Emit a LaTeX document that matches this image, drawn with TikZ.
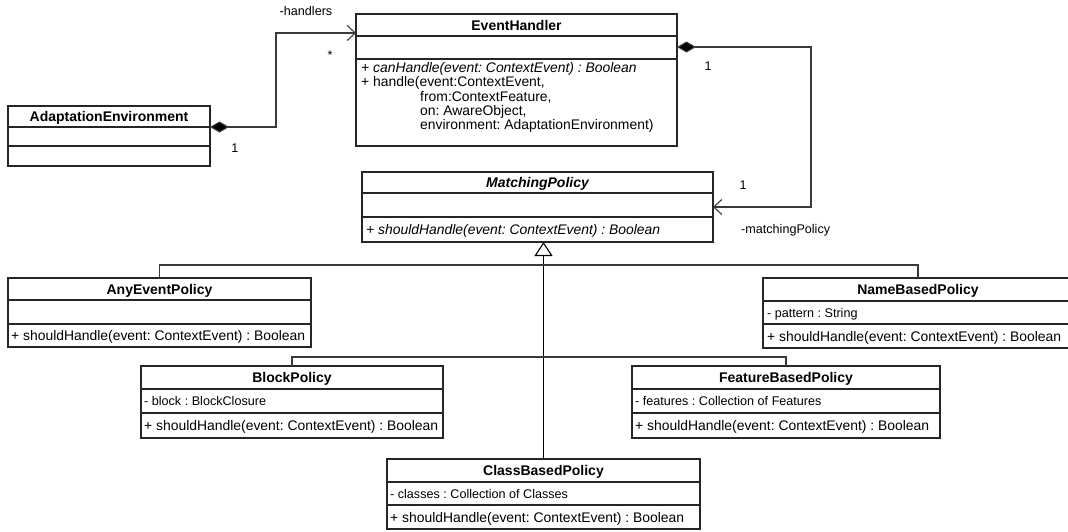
\documentclass[tikz,border=0pt]{standalone}
\usepackage{fontspec}
\setmainfont{Liberation Sans}
\usetikzlibrary{arrows.meta,fit}
\frenchspacing

\definecolor{framecol}{HTML}{262626}
\definecolor{conncol}{HTML}{3A3A3A}

% class box: name, x1, y1, x2, y2, first divider y, second divider y
\newcommand\classbox[7]{%
  \node[classframe, fit={(#2,#3)(#4,#5)}] (#1) {};
  \draw[divider] (#2,#6) -- (#4,#6);
  \draw[divider] (#2,#7) -- (#4,#7);
}

\tikzset{
  classframe/.style={draw=framecol, line width=1.1pt, inner sep=0pt, outer sep=0pt},
  divider/.style={draw=framecol, line width=1.1pt},
  hdr/.style={font=\fontsize{14}{16}\selectfont\bfseries, anchor=base, inner sep=0pt},
  op/.style={font=\fontsize{13.9}{16}\selectfont, anchor=base west, inner sep=0pt},
  attr/.style={font=\fontsize{12.6}{14}\selectfont, anchor=base west, inner sep=0pt},
  lbl/.style={font=\fontsize{12.6}{14}\selectfont, anchor=base, inner sep=0pt},
  link/.style={draw=conncol, line width=1.1pt},
  composite/.style={link, {Diamond[length=19pt,width=11pt,fill=black]}-{Straight Barb[length=8pt,width=15pt]}},
  inherit/.style={link, draw=black, -{Triangle[open,length=14pt,width=18pt,fill=white]}},
}

\begin{document}
\begin{tikzpicture}[x=1pt, y=-1pt]
\useasboundingbox[fill=white] (0,0) rectangle (1068,531);

% ---- classes ----
\classbox{ae}{8}{106}{210}{166}{127}{146}
\node[hdr] (ae-h) at (109,121.5) {AdaptationEnvironment};

\classbox{eh}{356}{14}{677}{146}{36}{59}
\node[hdr] (eh-h) at (516.5,30) {EventHandler};
\node[op] (eh-o1) at (361,72.5) {\itshape + canHandle(event: ContextEvent) : Boolean};
\node[op] (eh-o2) at (361,86.8) {+ handle(event:ContextEvent,};
\node[op] (eh-o3) at (420,101.1) {from:ContextFeature,};
\node[op] (eh-o4) at (420,115.4) {on: AwareObject,};
\node[op] (eh-o5) at (420,129.7) {environment: AdaptationEnvironment)};

\classbox{mp}{362}{172}{713}{242}{193}{217}
\node[hdr] (mp-h) at (537.5,187.5) {\itshape MatchingPolicy};
\node[op] (mp-o) at (366,234.5) {\itshape + shouldHandle(event: ContextEvent) : Boolean};

\classbox{aep}{8}{278}{311}{347}{300}{324}
\node[hdr] (aep-h) at (159.5,294) {AnyEventPolicy};
\node[op] (aep-o) at (11,340.5) {+ shouldHandle(event: ContextEvent) : Boolean};

\classbox{nbp}{763}{278}{1073}{348}{301}{324}
\node[hdr] (nbp-h) at (918,294.5) {NameBasedPolicy};
\node[attr] (nbp-a) at (767,317) {- pattern : String};
\node[op] (nbp-o) at (767,341) {+ shouldHandle(event: ContextEvent) : Boolean};

\classbox{bp}{141}{366}{443}{438}{389}{413}
\node[hdr] (bp-h) at (292,382.5) {BlockPolicy};
\node[attr] (bp-a) at (144,405.5) {- block : BlockClosure};
\node[op] (bp-o) at (144,430.5) {+ shouldHandle(event: ContextEvent) : Boolean};

\classbox{fbp}{632}{366}{940}{438}{389}{413}
\node[hdr] (fbp-h) at (786,382.5) {FeatureBasedPolicy};
\node[attr] (fbp-a) at (635,405.5) {- features : Collection of Features};
\node[op] (fbp-o) at (635,430.5) {+ shouldHandle(event: ContextEvent) : Boolean};

\classbox{cbp}{387}{459}{700}{529}{482}{505}
\node[hdr] (cbp-h) at (543.5,475.5) {ClassBasedPolicy};
\node[attr] (cbp-a) at (390,498) {- classes : Collection of Classes};
\node[op] (cbp-o) at (390,522) {+ shouldHandle(event: ContextEvent) : Boolean};

% ---- associations ----
\draw[composite] ([yshift=-21pt]ae.north east) -- ++(66,0) |- ([yshift=-19pt]eh.north west);
\node[lbl] (l-handlers) at (306,15) {-handlers};
\node[lbl] (l-star) at (330,59) {*};
\node[lbl] (l-ae1) at (235,152.5) {1};

\draw[composite] ([yshift=-33pt]eh.north east) -- ++(134,0) |- ([yshift=-35pt]mp.north east);
\node[lbl] (l-eh1) at (708,70.5) {1};
\node[lbl] (l-mp1) at (743,189.5) {1};
\node[lbl, anchor=base west] (l-match) at (741,233) {-matchingPolicy};

% ---- generalization tree ----
\draw[inherit] (cbp.north) -- (cbp.north |- mp.south);
\coordinate (bus1) at (543,265);
\coordinate (bus2) at (543,357);
\draw[link] (aep.north) |- (bus1) -| (nbp.north);
\draw[link] (bp.north) |- (bus2) -| (fbp.north);
\end{tikzpicture}
\end{document}
